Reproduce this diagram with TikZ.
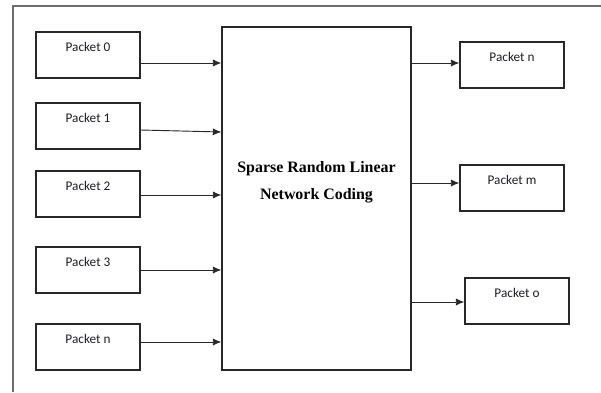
\documentclass[tikz,border=0pt]{standalone}
\usepackage{fontspec}
\setmainfont{Liberation Serif}
\newfontfamily\pktfont{Carlito}
\usepackage{xcolor}
\usetikzlibrary{arrows.meta, calc}
\definecolor{boxLine}{RGB}{40,40,40}
\definecolor{frameGray}{RGB}{110,110,110}
\definecolor{pktText}{RGB}{30,30,40}

\begin{document}
\begin{tikzpicture}[
    x=0.0265cm, y=-0.0265cm,
    packet/.style={rectangle, draw=boxLine, line width=0.8pt,
        minimum width=2.756cm, minimum height=1.219cm, inner ysep=0pt,
        text height=0.517cm, text depth=0.702cm,
        font=\pktfont\fontsize{10}{12}\selectfont, text=pktText},
    coderbox/.style={rectangle, draw=boxLine, line width=0.8pt,
        minimum width=5.009cm, minimum height=9.09cm, inner ysep=0pt,
        text height=4.56cm, text depth=4.53cm, align=center,
        font=\bfseries\fontsize{12}{20}\selectfont},
    arr/.style={-{Latex[length=2.3mm, width=1.9mm]}, line width=0.7pt, boxLine},
    frame/.style={draw=frameGray, line width=1pt}
]
\useasboundingbox (0,0) rectangle (601,392);
\draw[frame] (13,392) -- (13,6) -- (601,6);

% inputs
\node[packet] (p0) at (88,55)  {Packet 0};
\node[packet] (p1) at (88,126) {Packet 1};
\node[packet] (p2) at (88,194) {Packet 2};
\node[packet] (p3) at (88,270) {Packet 3};
\node[packet] (pn) at (88,347) {Packet n};

% coder
\node[coderbox] (coder) at (316.5,198.5) {Sparse Random Linear\\Network Coding};

% outputs
\node[packet] (rn) at (512,65)  {Packet n};
\node[packet] (rm) at (512,188) {Packet m};
\node[packet] (ro) at (517,301) {Packet o};

\draw[arr] ($(p0.east)+(0,8)$) -- ($(p0.east -| coder.west)+(0,8)$);
\draw[arr] ($(p1.east)+(0,4)$) -- ($(p1.east -| coder.west)+(0,6)$);
\draw[arr] ($(p2.east)+(0,1)$) -- ($(p2.east -| coder.west)+(0,1)$);
\draw[arr] (p3.east) -- (p3.east -| coder.west);
\draw[arr] ($(pn.east)+(0,-5)$) -- ($(pn.east -| coder.west)+(0,-5)$);

\draw[arr] ($(rn.west -| coder.east)+(0,-2)$) -- ($(rn.west)+(0,-2)$);
\draw[arr] ($(rm.west -| coder.east)+(0,-5)$) -- ($(rm.west)+(0,-5)$);
\draw[arr] ($(ro.west -| coder.east)+(0,1)$) -- ($(ro.west)+(0,1)$);
\end{tikzpicture}
\end{document}
